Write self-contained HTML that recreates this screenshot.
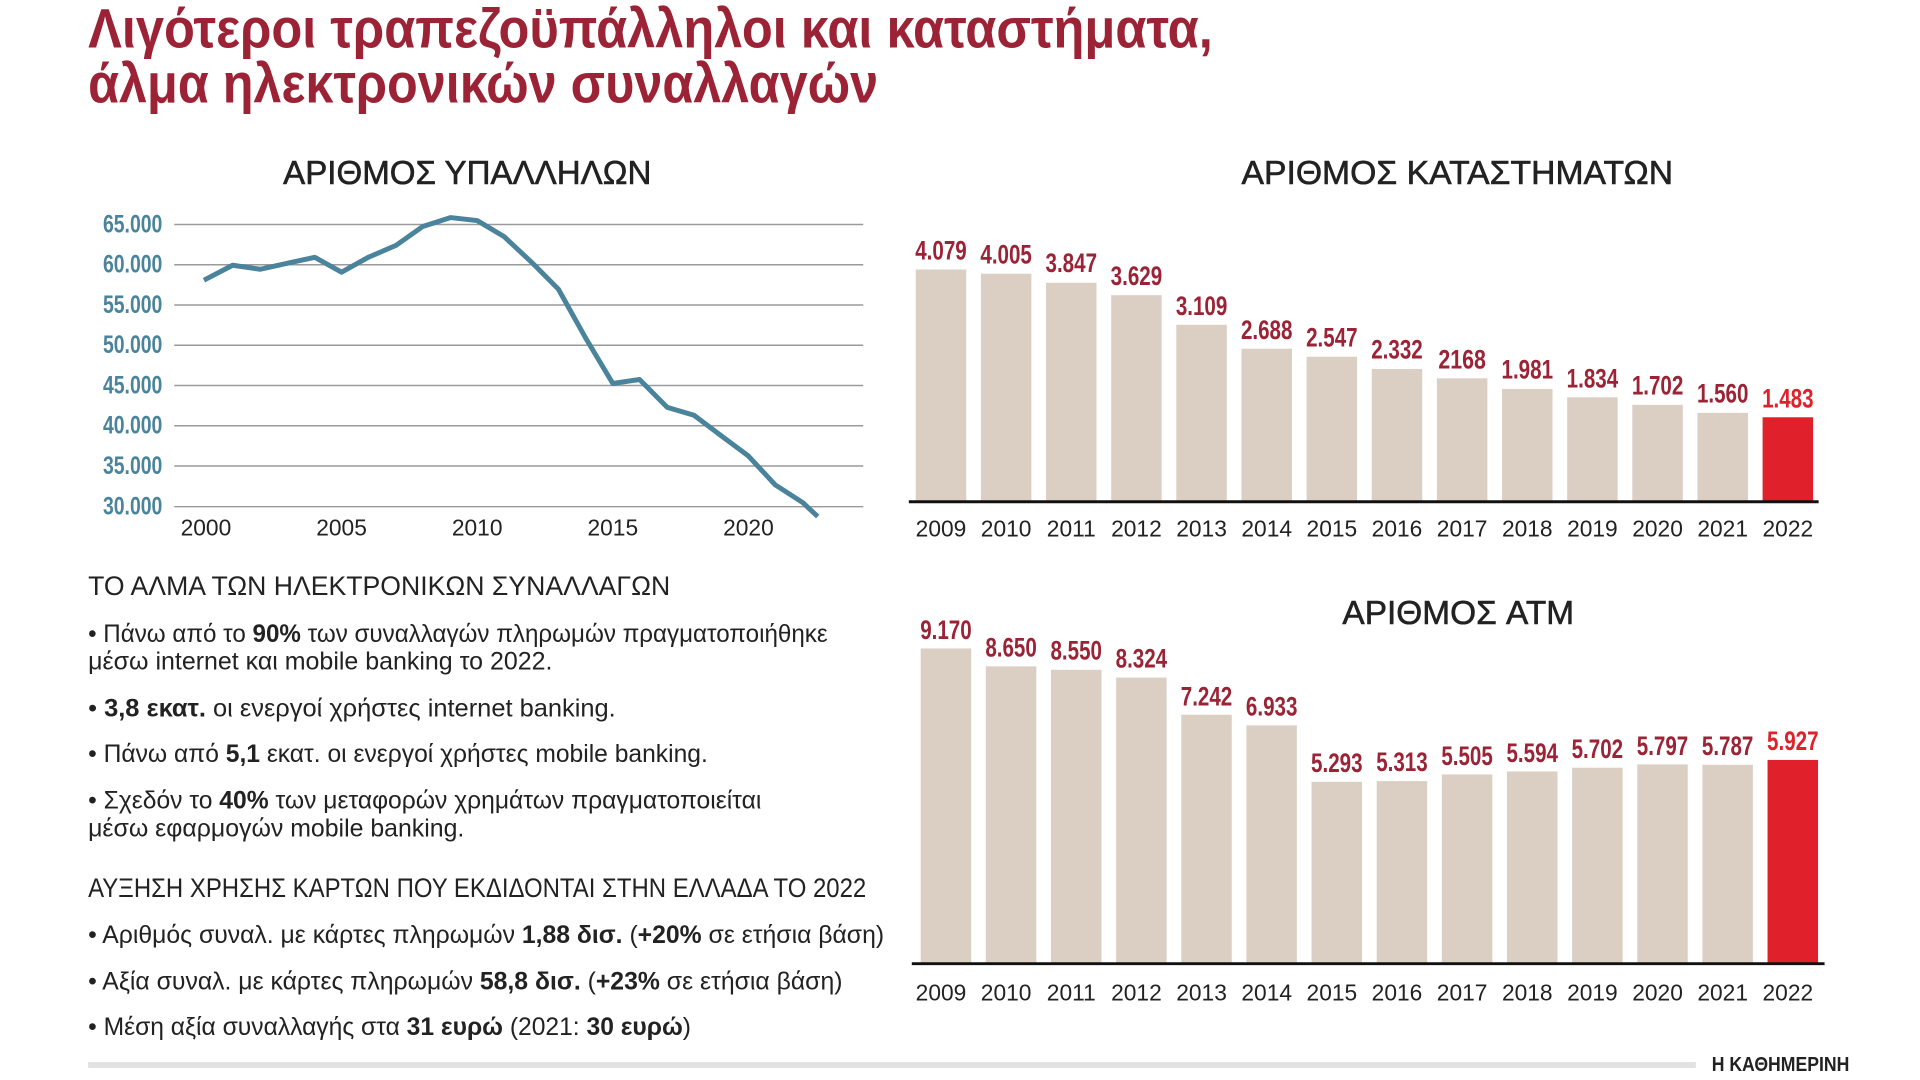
<!DOCTYPE html>
<html><head><meta charset="utf-8"><style>html,body{margin:0;padding:0;background:#fff}svg{display:block}</style></head>
<body>
<svg width="1920" height="1080" viewBox="0 0 1920 1080" xmlns="http://www.w3.org/2000/svg">
<rect width="1920" height="1080" fill="#fff"/>
<g font-family="Liberation Sans, DejaVu Sans, sans-serif" transform="scale(0.990,0.9935)">
<text x="89" y="48" font-size="56" font-weight="bold" fill="#9b2335" textLength="1136" lengthAdjust="spacingAndGlyphs">Λιγότεροι τραπεζοϋπάλληλοι και καταστήματα,</text>
<text x="89" y="103" font-size="56" font-weight="bold" fill="#9b2335" textLength="798" lengthAdjust="spacingAndGlyphs">άλμα ηλεκτρονικών συναλλαγών</text>

<text x="286" y="185" font-size="34" fill="#222" stroke="#222" stroke-width="0.6" textLength="372" lengthAdjust="spacingAndGlyphs">ΑΡΙΘΜΟΣ ΥΠΑΛΛΗΛΩΝ</text>
<text x="1254" y="185" font-size="34" fill="#222" stroke="#222" stroke-width="0.6" textLength="436" lengthAdjust="spacingAndGlyphs">ΑΡΙΘΜΟΣ ΚΑΤΑΣΤΗΜΑΤΩΝ</text>
<text x="1356" y="628" font-size="34" fill="#222" stroke="#222" stroke-width="0.6" textLength="234" lengthAdjust="spacingAndGlyphs">ΑΡΙΘΜΟΣ ATM</text>

<g stroke="#9a9a9a" stroke-width="1.5">
<line x1="176" x2="872" y1="226" y2="226"/><line x1="176" x2="872" y1="266.5" y2="266.5"/>
<line x1="176" x2="872" y1="307" y2="307"/><line x1="176" x2="872" y1="347.5" y2="347.5"/>
<line x1="176" x2="872" y1="388" y2="388"/><line x1="176" x2="872" y1="428.5" y2="428.5"/>
<line x1="176" x2="872" y1="469" y2="469"/><line x1="176" x2="872" y1="510" y2="510"/>
</g>
<g font-size="25" font-weight="bold" fill="#4a849c">
<text x="104" y="234" textLength="60" lengthAdjust="spacingAndGlyphs">65.000</text>
<text x="104" y="274.5" textLength="60" lengthAdjust="spacingAndGlyphs">60.000</text>
<text x="104" y="315" textLength="60" lengthAdjust="spacingAndGlyphs">55.000</text>
<text x="104" y="355.5" textLength="60" lengthAdjust="spacingAndGlyphs">50.000</text>
<text x="104" y="396" textLength="60" lengthAdjust="spacingAndGlyphs">45.000</text>
<text x="104" y="436.5" textLength="60" lengthAdjust="spacingAndGlyphs">40.000</text>
<text x="104" y="477" textLength="60" lengthAdjust="spacingAndGlyphs">35.000</text>
<text x="104" y="518" textLength="60" lengthAdjust="spacingAndGlyphs">30.000</text>
</g>
<g font-size="23" fill="#222" text-anchor="middle">
<text x="208" y="539">2000</text><text x="345" y="539">2005</text><text x="482" y="539">2010</text><text x="619" y="539">2015</text><text x="756" y="539">2020</text>
</g>
<polyline fill="none" stroke="#4a849c" stroke-width="5" stroke-linejoin="round" points="206,282 235,267 263,271 290,265 318,259 345,274 372,259 400,247 427,228 455,219 482,222 509,238 537,264 564,291 592,341 619,386 646,382 674,410 701,418 729,439 756,459 783,488 811,506 826,520"/>

<g fill="#dbcfc4">
<rect x="925" y="271.3" width="51" height="233.7"/>
<rect x="990.8" y="275.5" width="51" height="229.5"/>
<rect x="1056.6" y="284.6" width="51" height="220.4"/>
<rect x="1122.4" y="297.1" width="51" height="207.9"/>
<rect x="1188.2" y="326.9" width="51" height="178.1"/>
<rect x="1254" y="351" width="51" height="154"/>
<rect x="1319.8" y="359.1" width="51" height="145.9"/>
<rect x="1385.6" y="371.4" width="51" height="133.6"/>
<rect x="1451.4" y="380.8" width="51" height="124.2"/>
<rect x="1517.2" y="391.5" width="51" height="113.5"/>
<rect x="1583" y="399.9" width="51" height="105.1"/>
<rect x="1648.8" y="407.5" width="51" height="97.5"/>
<rect x="1714.6" y="415.6" width="51" height="89.4"/>
</g>
<rect x="1780.4" y="420" width="51" height="85" fill="#e0202a"/>
<line x1="918" x2="1837" y1="505" y2="505" stroke="#111" stroke-width="3"/>
<g font-size="27" font-weight="bold" fill="#9b2335" text-anchor="middle">
<text x="950.5" y="261" textLength="52" lengthAdjust="spacingAndGlyphs">4.079</text>
<text x="1016.3" y="265" textLength="52" lengthAdjust="spacingAndGlyphs">4.005</text>
<text x="1082.1" y="274" textLength="52" lengthAdjust="spacingAndGlyphs">3.847</text>
<text x="1147.9" y="287" textLength="52" lengthAdjust="spacingAndGlyphs">3.629</text>
<text x="1213.7" y="317" textLength="52" lengthAdjust="spacingAndGlyphs">3.109</text>
<text x="1279.5" y="341" textLength="52" lengthAdjust="spacingAndGlyphs">2.688</text>
<text x="1345.3" y="349" textLength="52" lengthAdjust="spacingAndGlyphs">2.547</text>
<text x="1411.1" y="361" textLength="52" lengthAdjust="spacingAndGlyphs">2.332</text>
<text x="1476.9" y="371" textLength="48" lengthAdjust="spacingAndGlyphs">2168</text>
<text x="1542.7" y="381" textLength="52" lengthAdjust="spacingAndGlyphs">1.981</text>
<text x="1608.5" y="390" textLength="52" lengthAdjust="spacingAndGlyphs">1.834</text>
<text x="1674.3" y="397" textLength="52" lengthAdjust="spacingAndGlyphs">1.702</text>
<text x="1740.1" y="405" textLength="52" lengthAdjust="spacingAndGlyphs">1.560</text>
<text x="1805.9" y="410" textLength="52" lengthAdjust="spacingAndGlyphs" fill="#e0202a">1.483</text>
</g>
<g font-size="23" fill="#222" text-anchor="middle">
<text x="950.5" y="540">2009</text><text x="1016.3" y="540">2010</text><text x="1082.1" y="540">2011</text><text x="1147.9" y="540">2012</text><text x="1213.7" y="540">2013</text><text x="1279.5" y="540">2014</text><text x="1345.3" y="540">2015</text><text x="1411.1" y="540">2016</text><text x="1476.9" y="540">2017</text><text x="1542.7" y="540">2018</text><text x="1608.5" y="540">2019</text><text x="1674.3" y="540">2020</text><text x="1740.1" y="540">2021</text><text x="1805.9" y="540">2022</text>
</g>

<g fill="#dbcfc4">
<rect x="930" y="652.7" width="51" height="317.3"/>
<rect x="995.8" y="670.7" width="51" height="299.3"/>
<rect x="1061.6" y="674.2" width="51" height="295.8"/>
<rect x="1127.4" y="682" width="51" height="288"/>
<rect x="1193.2" y="719.4" width="51" height="250.6"/>
<rect x="1259" y="730.1" width="51" height="239.9"/>
<rect x="1324.8" y="786.9" width="51" height="183.1"/>
<rect x="1390.6" y="786.2" width="51" height="183.8"/>
<rect x="1456.4" y="779.5" width="51" height="190.5"/>
<rect x="1522.2" y="776.5" width="51" height="193.5"/>
<rect x="1588" y="772.7" width="51" height="197.3"/>
<rect x="1653.8" y="769.4" width="51" height="200.6"/>
<rect x="1719.6" y="769.8" width="51" height="200.2"/>
</g>
<rect x="1785.4" y="764.9" width="51" height="205.1" fill="#e0202a"/>
<line x1="921" x2="1843" y1="970" y2="970" stroke="#111" stroke-width="3"/>
<g font-size="27" font-weight="bold" fill="#9b2335" text-anchor="middle">
<text x="955.5" y="643" textLength="52" lengthAdjust="spacingAndGlyphs">9.170</text>
<text x="1021.3" y="661" textLength="52" lengthAdjust="spacingAndGlyphs">8.650</text>
<text x="1087.1" y="664" textLength="52" lengthAdjust="spacingAndGlyphs">8.550</text>
<text x="1152.9" y="672" textLength="52" lengthAdjust="spacingAndGlyphs">8.324</text>
<text x="1218.7" y="710" textLength="52" lengthAdjust="spacingAndGlyphs">7.242</text>
<text x="1284.5" y="720" textLength="52" lengthAdjust="spacingAndGlyphs">6.933</text>
<text x="1350.3" y="777" textLength="52" lengthAdjust="spacingAndGlyphs">5.293</text>
<text x="1416.1" y="776" textLength="52" lengthAdjust="spacingAndGlyphs">5.313</text>
<text x="1481.9" y="770" textLength="52" lengthAdjust="spacingAndGlyphs">5.505</text>
<text x="1547.7" y="767" textLength="52" lengthAdjust="spacingAndGlyphs">5.594</text>
<text x="1613.5" y="763" textLength="52" lengthAdjust="spacingAndGlyphs">5.702</text>
<text x="1679.3" y="760" textLength="52" lengthAdjust="spacingAndGlyphs">5.797</text>
<text x="1745.1" y="760" textLength="52" lengthAdjust="spacingAndGlyphs">5.787</text>
<text x="1810.9" y="755" textLength="52" lengthAdjust="spacingAndGlyphs" fill="#e0202a">5.927</text>
</g>
<g font-size="23" fill="#222" text-anchor="middle">
<text x="950.5" y="1007">2009</text><text x="1016.3" y="1007">2010</text><text x="1082.1" y="1007">2011</text><text x="1147.9" y="1007">2012</text><text x="1213.7" y="1007">2013</text><text x="1279.5" y="1007">2014</text><text x="1345.3" y="1007">2015</text><text x="1411.1" y="1007">2016</text><text x="1476.9" y="1007">2017</text><text x="1542.7" y="1007">2018</text><text x="1608.5" y="1007">2019</text><text x="1674.3" y="1007">2020</text><text x="1740.1" y="1007">2021</text><text x="1805.9" y="1007">2022</text>
</g>

<g font-size="25" fill="#222">
<text x="89" y="599" font-size="27" textLength="588" lengthAdjust="spacingAndGlyphs">ΤΟ ΑΛΜΑ ΤΩΝ ΗΛΕΚΤΡΟΝΙΚΩΝ ΣΥΝΑΛΛΑΓΩΝ</text>
<text x="89" y="646" textLength="747" lengthAdjust="spacingAndGlyphs">• Πάνω από το <tspan font-weight="bold">90%</tspan> των συναλλαγών πληρωμών πραγματοποιήθηκε</text>
<text x="89" y="674" textLength="469" lengthAdjust="spacingAndGlyphs">μέσω internet και mobile banking το 2022.</text>
<text x="89" y="721" textLength="533" lengthAdjust="spacingAndGlyphs">• <tspan font-weight="bold">3,8 εκατ.</tspan> οι ενεργοί χρήστες internet banking.</text>
<text x="89" y="767" textLength="626" lengthAdjust="spacingAndGlyphs">• Πάνω από <tspan font-weight="bold">5,1</tspan> εκατ. οι ενεργοί χρήστες mobile banking.</text>
<text x="89" y="814" textLength="680" lengthAdjust="spacingAndGlyphs">• Σχεδόν το <tspan font-weight="bold">40%</tspan> των μεταφορών χρημάτων πραγματοποιείται</text>
<text x="89" y="842" textLength="380" lengthAdjust="spacingAndGlyphs">μέσω εφαρμογών mobile banking.</text>
<text x="89" y="903" font-size="27" textLength="786" lengthAdjust="spacingAndGlyphs">ΑΥΞΗΣΗ ΧΡΗΣΗΣ ΚΑΡΤΩΝ ΠΟΥ ΕΚΔΙΔΟΝΤΑΙ ΣΤΗΝ ΕΛΛΑΔΑ ΤΟ 2022</text>
<text x="89" y="949" textLength="804" lengthAdjust="spacingAndGlyphs">• Αριθμός συναλ. με κάρτες πληρωμών <tspan font-weight="bold">1,88 δισ.</tspan> (<tspan font-weight="bold">+20%</tspan> σε ετήσια βάση)</text>
<text x="89" y="996" textLength="762" lengthAdjust="spacingAndGlyphs">• Αξία συναλ. με κάρτες πληρωμών <tspan font-weight="bold">58,8 δισ.</tspan> (<tspan font-weight="bold">+23%</tspan> σε ετήσια βάση)</text>
<text x="89" y="1042" textLength="609" lengthAdjust="spacingAndGlyphs">• Μέση αξία συναλλαγής στα <tspan font-weight="bold">31 ευρώ</tspan> (2021: <tspan font-weight="bold">30 ευρώ</tspan>)</text>
</g>
<rect x="89" y="1069" width="1624" height="6" fill="#e2e2e2"/>
<text x="1729" y="1078" font-size="20" font-weight="bold" fill="#222" textLength="139" lengthAdjust="spacingAndGlyphs">Η ΚΑΘΗΜΕΡΙΝΗ</text>
</g>
</svg>
</body></html>
